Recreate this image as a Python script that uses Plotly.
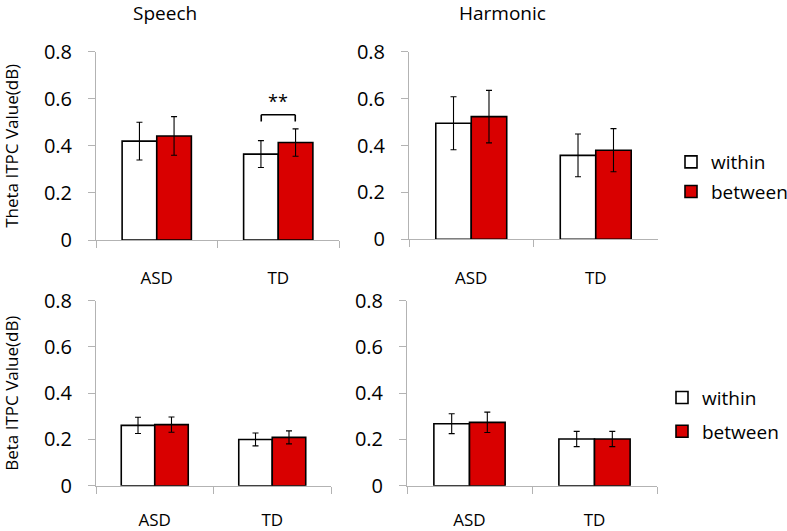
import plotly.graph_objects as go

groups = ["ASD", "TD"]
series_names = ["within", "between"]

theta_speech_within = [0.420, 0.365]
theta_speech_within_err = [0.080, 0.057]
theta_speech_between = [0.442, 0.414]
theta_speech_between_err = [0.082, 0.058]

theta_harm_within = [0.495, 0.358]
theta_harm_within_err = [0.113, 0.091]
theta_harm_between = [0.523, 0.380]
theta_harm_between_err = [0.112, 0.092]

beta_speech_within = [0.261, 0.200]
beta_speech_within_err = [0.035, 0.028]
beta_speech_between = [0.264, 0.209]
beta_speech_between_err = [0.033, 0.028]

beta_harm_within = [0.268, 0.202]
beta_harm_within_err = [0.043, 0.033]
beta_harm_between = [0.274, 0.202]
beta_harm_between_err = [0.044, 0.033]

y_ticks = [0, 0.2, 0.4, 0.6, 0.8]
y_tick_text = ["0", "0.2", "0.4", "0.6", "0.8"]

FONT = "Open Sans"
RED = "#d90000"
AX = "#b3b3b3"

W, H = 787, 531

def px_x(a, b):
    return [a / W, b / W]

def px_y(top, bottom):
    return [1 - bottom / H, 1 - top / H]

def pxx(a):
    return a / W

def pxy(a):
    return 1 - a / H

panels = [
    ("x", "y", theta_speech_within, theta_speech_within_err, theta_speech_between, theta_speech_between_err, "legend"),
    ("x2", "y2", theta_harm_within, theta_harm_within_err, theta_harm_between, theta_harm_between_err, "legend"),
    ("x3", "y3", beta_speech_within, beta_speech_within_err, beta_speech_between, beta_speech_between_err, "legend2"),
    ("x4", "y4", beta_harm_within, beta_harm_within_err, beta_harm_between, beta_harm_between_err, "legend2"),
]

fig = go.Figure()
for i, (xa, ya, w, we, b, be, lg) in enumerate(panels):
    show = i in (1, 3)
    fig.add_trace(go.Bar(
        x=groups, y=w, name=series_names[0], xaxis=xa, yaxis=ya,
        marker=dict(color="white", line=dict(color="black", width=1.6)),
        error_y=dict(type="data", array=we, color="black", thickness=1.1, width=3),
        showlegend=show, legend=lg, legendgroup="w" + lg,
    ))
    fig.add_trace(go.Bar(
        x=groups, y=b, name=series_names[1], xaxis=xa, yaxis=ya,
        marker=dict(color=RED, line=dict(color="black", width=1.6)),
        error_y=dict(type="data", array=be, color="black", thickness=1.1, width=3),
        showlegend=show, legend=lg, legendgroup="b" + lg,
    ))

xdom = [px_x(96, 339), px_x(409, 658), px_x(96, 331), px_x(407, 657)]
ydom = [px_y(51.7, 240), px_y(51.7, 239.3), px_y(300.7, 485.7), px_y(300.7, 485.7)]
xstand = [23, 23, 19, 19]

layout = dict(
    template="none",
    width=W, height=H,
    margin=dict(l=0, r=0, t=0, b=0, autoexpand=False),
    paper_bgcolor="white", plot_bgcolor="white",
    font=dict(family=FONT, size=18, color="black"),
    barmode="group", bargap=0.43, bargroupgap=0,
)
ytitles = ["Theta ITPC Value(dB)", None, "Beta ITPC Value(dB)", None]
for i in range(4):
    sx = "xaxis" if i == 0 else f"xaxis{i+1}"
    sy = "yaxis" if i == 0 else f"yaxis{i+1}"
    yname = "y" if i == 0 else f"y{i+1}"
    xname = "x" if i == 0 else f"x{i+1}"
    layout[sx] = dict(
        domain=xdom[i], anchor=yname, type="category", automargin=False,
        showline=True, linecolor=AX, linewidth=1,
        ticks="outside", tickson="boundaries", ticklen=7, tickcolor=AX,
        showgrid=False, zeroline=False,
        tickfont=dict(size=17), ticklabelstandoff=xstand[i],
    )
    ya = dict(
        domain=ydom[i], anchor=xname, range=[0, 0.8], automargin=False,
        tickvals=y_ticks, ticktext=y_tick_text,
        showline=True, linecolor=AX, linewidth=1,
        ticks="outside", ticklen=7, tickcolor=AX,
        showgrid=False, zeroline=False,
        tickfont=dict(size=20), ticklabelstandoff=12,
    )
    if ytitles[i]:
        ya["title"] = dict(text=ytitles[i], font=dict(size=17), standoff=28)
    layout[sy] = ya

layout["legend"] = dict(x=pxx(671), xanchor="left", y=pxy(177), yanchor="middle",
                        font=dict(size=19), tracegroupgap=2, bgcolor="rgba(0,0,0,0)")
layout["legend2"] = dict(x=pxx(662), xanchor="left", y=pxy(414.7), yanchor="middle",
                         font=dict(size=19), tracegroupgap=6, bgcolor="rgba(0,0,0,0)")
fig.update_layout(**layout)

fig.add_annotation(text="Speech", x=pxx(165), y=pxy(13), xref="paper", yref="paper",
                   showarrow=False, font=dict(size=19), xanchor="center", yanchor="middle")
fig.add_annotation(text="Harmonic", x=pxx(502), y=pxy(13), xref="paper", yref="paper",
                   showarrow=False, font=dict(size=19), xanchor="center", yanchor="middle")

sig_lo, sig_hi = 0.503, 0.532
line = dict(color="black", width=1.6)
fig.add_shape(type="line", xref="x", yref="y", x0="TD", x1="TD", x0shift=-0.14, x1shift=0.14,
              y0=sig_hi, y1=sig_hi, line=line)
fig.add_shape(type="line", xref="x", yref="y", x0="TD", x1="TD", x0shift=-0.14, x1shift=-0.14,
              y0=sig_lo, y1=sig_hi, line=line)
fig.add_shape(type="line", xref="x", yref="y", x0="TD", x1="TD", x0shift=0.14, x1shift=0.14,
              y0=sig_lo, y1=sig_hi, line=line)
fig.add_annotation(text="**", x="TD", y=0.59, xref="x", yref="y", showarrow=False,
                   font=dict(size=18), yanchor="middle")

# remove the default page margin so the 787x531 figure fills the window exactly
fig.write_html("out.html", config={"displayModeBar": False},
               post_script="document.body.style.margin='0px';document.body.style.overflow='hidden';")
